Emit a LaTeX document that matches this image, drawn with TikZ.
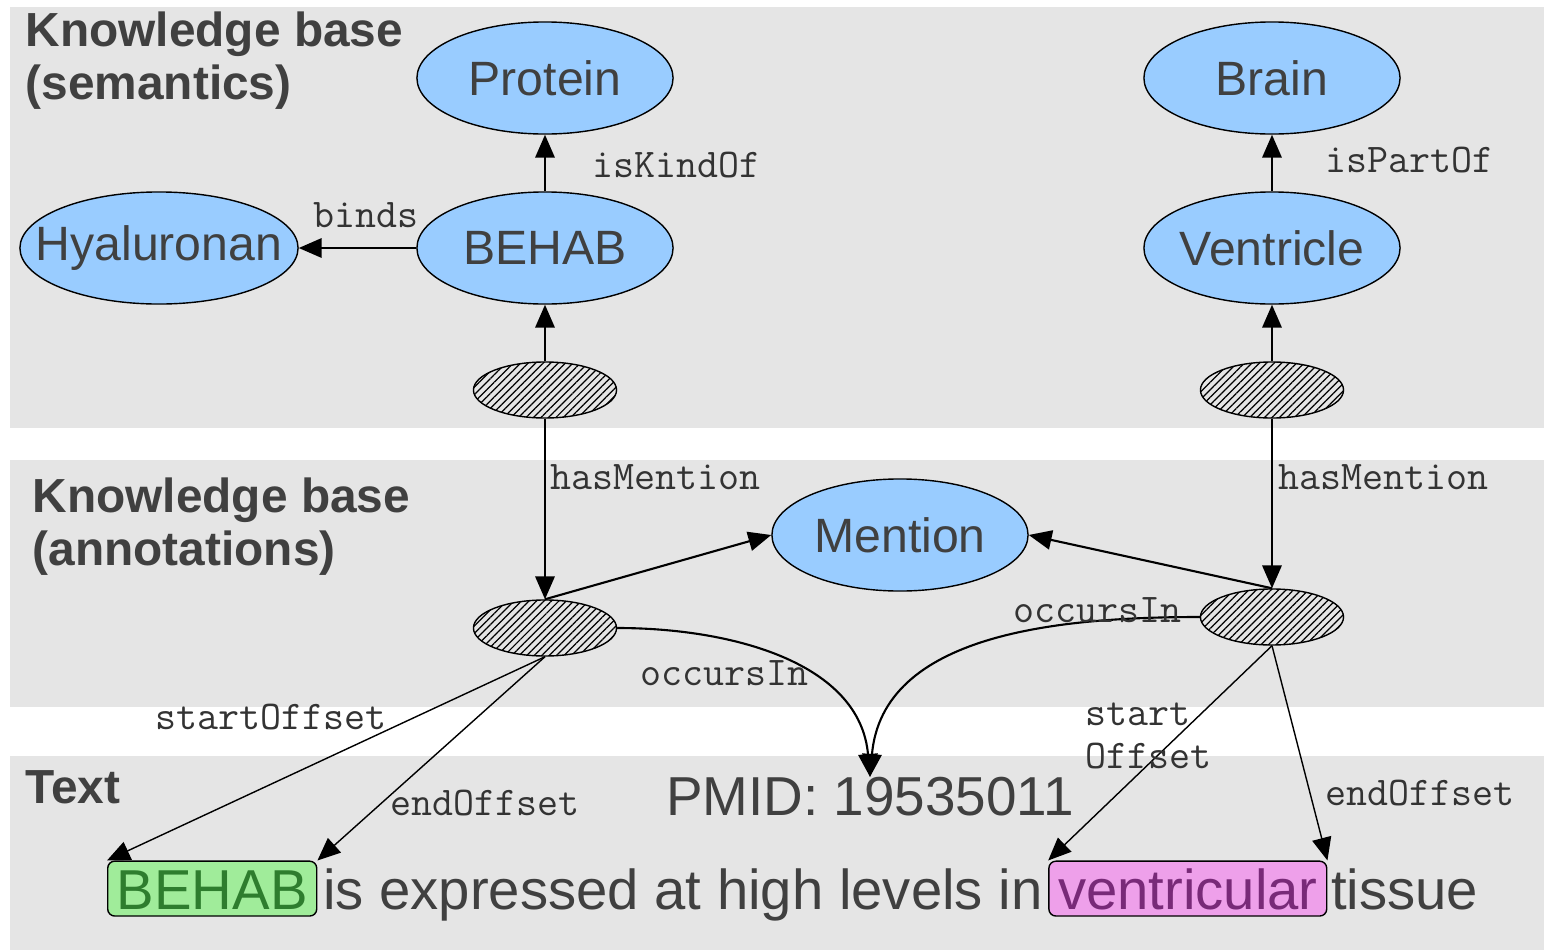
\documentclass[tikz,border=0pt]{standalone}
\usepackage{fontspec}
\setmainfont{Liberation Sans}
\usetikzlibrary{shapes.geometric,arrows.meta,patterns.meta,positioning}

\definecolor{panel}{HTML}{E5E5E5}
\definecolor{kbblue}{HTML}{99CCFF}
\definecolor{txtgray}{HTML}{404040}
\definecolor{hlgreen}{HTML}{A0EC9A}
\definecolor{hlgreentxt}{HTML}{2E7D2E}
\definecolor{hlpink}{HTML}{EEA0EA}
\definecolor{hlpinktxt}{HTML}{782A78}

\newcommand{\ctext}[1]{\makebox[0pt]{#1}}

\tikzset{
concept/.style={ellipse, draw, fill=kbblue, minimum width=2.56cm,
  minimum height=1.12cm, inner sep=0pt, text=txtgray,
  font=\fontsize{13.7}{16}\selectfont},
mentionpt/.style={ellipse, draw,
  pattern={Lines[angle=45,distance=1.5pt,line width=0.35pt]},
  minimum width=1.43cm, minimum height=0.56cm, inner sep=0pt},
hdr/.style={anchor=north west, align=left, inner sep=0pt, text=txtgray,
  font=\fontsize{13.6}{15}\selectfont\bfseries},
lbl/.style={anchor=west, inner sep=0pt, text=black!80,
  font=\fontsize{11.6}{12}\selectfont\ttfamily},
sent/.style={inner sep=0pt, text=txtgray,
  font=\fontsize{16}{18}\selectfont},
hlbox/.style={draw, rounded corners=2pt, inner xsep=2.6pt, inner ysep=2pt,
  text height=11.6pt, text depth=0pt, font=\fontsize{16}{18}\selectfont},
arr/.style={-{Triangle[length=6.5pt,width=5.5pt]}, line width=0.6pt},
thinarr/.style={-{Triangle[length=6.5pt,width=5.5pt]}, line width=0.4pt},
}

\begin{document}
\begin{tikzpicture}[x=0.01cm, y=-0.01cm]
\useasboundingbox (0,0) rectangle (1544,951);
% panels
\fill[panel] (10,7) rectangle (1544,428);
\fill[panel] (10,460) rectangle (1544,707);
\fill[panel] (10,756) rectangle (1544,950);

\node[hdr] (hsem) at (25,11) {Knowledge base\\(semantics)};
\node[hdr] (hann) at (32,477) {Knowledge base\\(annotations)};
\node[hdr] (htxt) at (25,770) {Text};

% semantics
\node[concept] (protein) at (545,78) {\ctext{Protein}};
\node[concept] (behab) at (545,248) {\ctext{BEHAB}};
\node[concept, minimum width=2.78cm] (hyal) at (159,248) {\ctext{Hyaluronan}};
\node[concept] (brain) at (1272,78) {\ctext{Brain}};
\node[concept] (ventr) at (1272,248) {\ctext{Ventricle}};
\node[mentionpt] (hbehab) at (545,390) {};
\node[mentionpt] (hventr) at (1272,390) {};

% annotations
\node[concept] (mention) at (900,535) {\ctext{Mention}};
\node[mentionpt] (mbehab) at (545,628) {};
\node[mentionpt] (mventr) at (1272,617) {};

% text
\node[sent, font=\fontsize{15.6}{18}\selectfont] (pmid) at (870,797) {PMID: 19535011};
\node[hlbox, fill=hlgreen, text=hlgreentxt, anchor=base west] (behabtxt)
  at (107,909) {BEHAB};
\node[sent, base right=0.05cm of behabtxt] (midtxt) {is expressed at high levels in};
\node[hlbox, fill=hlpink, text=hlpinktxt, base right=0.05cm of midtxt] (venttxt) {ventricular};
\node[sent, base right=0.03cm of venttxt] (endtxt) {tissue};

% connectors
\draw[arr] (behab) -- (protein);
\draw[arr] (behab) -- (hyal);
\draw[arr] (ventr) -- (brain);
\draw[arr] (hbehab) -- (behab);
\draw[arr] (hbehab) -- (mbehab);
\draw[arr] (hventr) -- (ventr);
\draw[arr] (hventr) -- (mventr);
\draw[arr] (mbehab.north) -- (mention.west);
\draw[arr] (mventr.north) -- (mention.east);
\draw[arr] (mbehab.east) to[out=0,in=95] (pmid.north);
\draw[arr] (mventr.west) to[out=180,in=85] (pmid.north);
\draw[thinarr] (mbehab.south) -- (behabtxt.north west);
\draw[thinarr] (mbehab.south) -- (behabtxt.north east);
\draw[thinarr] (mventr.south) -- (venttxt.north west);
\draw[thinarr] (mventr.south) -- (venttxt.north east);

% labels
\node[lbl] (lkind) at (592,165) {isKindOf};
\node[lbl] (lbinds) at (313,215) {binds};
\node[lbl] (lpart) at (1325,160) {isPartOf};
\node[lbl] (lhas1) at (550,477) {hasMention};
\node[lbl] (lhas2) at (1278,477) {hasMention};
\node[lbl] (locc1) at (640,673) {occursIn};
\node[lbl] (locc2) at (1013,610) {occursIn};
\node[lbl] (lstart1) at (155,717) {startOffset};
\node[lbl] (lend1) at (390,803) {endOffset};
\node[lbl, align=left] (lstart2) at (1085,736) {start\\Offset};
\node[lbl] (lend2) at (1325,793) {endOffset};
\end{tikzpicture}
\end{document}
